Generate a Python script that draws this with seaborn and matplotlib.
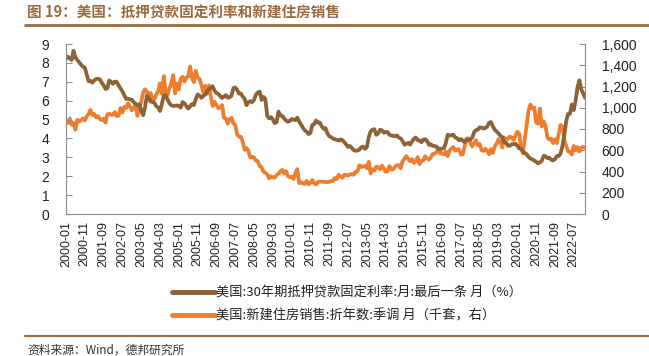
import numpy as np
import pandas as pd
import matplotlib
matplotlib.use("Agg")
import matplotlib.pyplot as plt
from matplotlib.lines import Line2D
from matplotlib.ticker import FuncFormatter, MultipleLocator
import seaborn as sns

# ---------------- data ----------------
start_month = "2000-01"
n_months = 277

# 美国:30年期抵押贷款固定利率:月:最后一条 (%)
rate = [
    8.21, 8.33, 8.24, 8.15, 8.64, 8.29, 8.15, 8.03, 7.91, 7.80, 7.75, 7.38,
    7.03, 7.05, 6.95, 7.08, 7.15, 7.16, 7.13, 6.95, 6.82, 6.62, 6.66, 7.07,
    7.00, 6.89, 7.01, 6.99, 6.81, 6.65, 6.49, 6.29, 6.09, 6.11, 6.07, 6.05,
    5.92, 5.84, 5.75, 5.81, 5.48, 5.23, 5.63, 6.26, 6.15, 5.95, 5.93, 5.88,
    5.71, 5.64, 5.45, 5.83, 6.27, 6.29, 6.06, 5.87, 5.75, 5.72, 5.73, 5.75,
    5.71, 5.63, 5.93, 5.86, 5.72, 5.58, 5.70, 5.82, 5.77, 6.07, 6.33, 6.27,
    6.15, 6.25, 6.32, 6.51, 6.60, 6.68, 6.76, 6.52, 6.40, 6.36, 6.24, 6.14,
    6.22, 6.29, 6.16, 6.18, 6.26, 6.66, 6.70, 6.57, 6.38, 6.38, 6.21, 6.10,
    5.76, 5.92, 5.97, 5.92, 6.04, 6.32, 6.43, 6.48, 6.04, 6.20, 6.09, 5.19,
    5.06, 5.13, 5.00, 4.81, 4.86, 5.42, 5.22, 5.19, 5.06, 4.95, 4.88, 4.93,
    5.03, 4.99, 4.97, 5.10, 4.89, 4.74, 4.56, 4.43, 4.35, 4.23, 4.30, 4.71,
    4.76, 4.95, 4.84, 4.84, 4.64, 4.51, 4.55, 4.27, 4.11, 4.07, 3.99, 3.96,
    3.92, 3.89, 3.95, 3.91, 3.80, 3.68, 3.55, 3.60, 3.50, 3.38, 3.35, 3.35,
    3.41, 3.53, 3.57, 3.45, 3.54, 4.07, 4.37, 4.46, 4.49, 4.19, 4.26, 4.46,
    4.43, 4.30, 4.34, 4.34, 4.19, 4.16, 4.13, 4.12, 4.16, 4.04, 4.00, 3.86,
    3.67, 3.71, 3.77, 3.67, 3.84, 3.98, 4.05, 3.91, 3.89, 3.80, 3.94, 3.96,
    3.87, 3.66, 3.69, 3.61, 3.60, 3.57, 3.44, 3.44, 3.46, 3.47, 3.77, 4.20,
    4.15, 4.17, 4.20, 4.05, 4.01, 3.90, 3.97, 3.88, 3.81, 3.90, 3.92, 3.95,
    4.03, 4.33, 4.44, 4.47, 4.59, 4.57, 4.53, 4.55, 4.63, 4.83, 4.87, 4.64,
    4.46, 4.37, 4.27, 4.14, 4.07, 3.80, 3.77, 3.62, 3.61, 3.69, 3.70, 3.72,
    3.62, 3.47, 3.45, 3.31, 3.23, 3.16, 3.02, 2.94, 2.89, 2.83, 2.77, 2.68,
    2.74, 2.81, 3.08, 3.06, 2.96, 2.98, 2.87, 2.84, 2.90, 3.07, 3.07, 3.20,
    3.60, 4.20, 4.90, 5.30, 5.30, 5.80, 5.50, 6.00, 6.70, 7.08, 6.60, 6.40,
    6.15,
]

# 美国:新建住房销售:折年数:季调 (千套)
sales = [
    873, 856, 900, 841, 857, 793, 887, 870, 880, 900, 880, 919,
    940, 980, 932, 941, 909, 921, 895, 883, 897, 860, 940, 942,
    932, 935, 959, 921, 927, 997, 955, 1009, 999, 1042, 1011, 976,
    1000, 1025, 924, 1010, 1050, 1142, 1174, 1151, 1104, 1140, 1069, 1079,
    1125, 1156, 1231, 1131, 1298, 1141, 1120, 1183, 1229, 1307, 1135, 1226,
    1173, 1274, 1291, 1246, 1284, 1297, 1389, 1282, 1241, 1349, 1285, 1271,
    1215, 1144, 1207, 1132, 1210, 1107, 1016, 1055, 1025, 994, 1004, 1026,
    905, 900, 849, 892, 906, 853, 838, 749, 729, 728, 680, 604,
    620, 593, 534, 538, 532, 502, 499, 451, 441, 397, 389, 374,
    336, 356, 345, 342, 367, 380, 400, 416, 382, 404, 357, 346,
    351, 330, 384, 422, 290, 300, 289, 282, 312, 278, 292, 320,
    288, 277, 302, 306, 304, 302, 302, 299, 303, 309, 314, 339,
    329, 369, 352, 342, 369, 367, 363, 371, 375, 369, 397, 399,
    458, 444, 446, 453, 431, 491, 381, 421, 409, 445, 442, 422,
    455, 431, 398, 403, 452, 418, 420, 446, 459, 461, 431, 498,
    521, 545, 519, 497, 517, 481, 495, 535, 469, 498, 505, 544,
    525, 512, 533, 565, 569, 580, 614, 567, 572, 561, 586, 545,
    598, 618, 631, 595, 608, 609, 559, 561, 639, 711, 712, 672,
    636, 667, 694, 646, 659, 601, 593, 613, 595, 562, 610, 575,
    637, 661, 704, 675, 626, 720, 708, 706, 729, 720, 697, 736,
    774, 753, 627, 570, 707, 843, 975, 1030, 994, 1002, 862, 850,
    993, 823, 873, 831, 720, 701, 708, 667, 702, 667, 752, 839,
    822, 700, 640, 590, 585, 560, 640, 600, 630, 588, 625, 630,
    625,
]

rate_label = "美国:30年期抵押贷款固定利率:月:最后一条 月（%）"
sales_label = "美国:新建住房销售:折年数:季调 月（千套，右）"
title_text = "图 19：美国：抵押贷款固定利率和新建住房销售"
source_text = "资料来源：Wind，德邦研究所"

months = pd.date_range(start_month, periods=n_months, freq="MS").strftime("%Y-%m").tolist()
df = pd.DataFrame({"idx": np.arange(n_months), "month": months,
                   "rate": rate, "sales": sales})

# ---------------- style ----------------
sns.set_theme(style="white")
plt.rcParams["font.family"] = ["Liberation Sans", "Noto Sans CJK SC", "DejaVu Sans"]
CJK = ["Noto Sans CJK SC", "DejaVu Sans"]

BROWN = "#8E6234"
ORANGE = "#EE7D2E"
TITLE_C = "#9C6A3E"
AXIS_C = "#8C8C8C"

W, H = 649, 356
fig = plt.figure(figsize=(W / 100, H / 100), dpi=100)
ax = fig.add_axes([66 / W, 1 - 214 / H, (585 - 66) / W, (214 - 44) / H])
ax2 = ax.twinx()

sns.lineplot(data=df, x="idx", y="rate", ax=ax, color=BROWN, linewidth=2.7, legend=False)
sns.lineplot(data=df, x="idx", y="sales", ax=ax2, color=ORANGE, linewidth=2.7, legend=False)
ax.set_zorder(ax2.get_zorder() + 1)
ax.patch.set_visible(False)

ax.set_xlim(0, n_months - 1)
ax.set_ylim(0, 9)
ax2.set_ylim(0, 1600)
ax.yaxis.set_major_locator(MultipleLocator(1))
ax2.yaxis.set_major_locator(MultipleLocator(200))
ax2.yaxis.set_major_formatter(FuncFormatter(lambda v, p: f"{int(v):,}"))

tick_pos = list(range(0, n_months, 10))
ax.set_xticks(tick_pos)
ax.set_xticklabels([months[i] for i in tick_pos], rotation=90)

for a in (ax, ax2):
    a.set_xlabel("")
    a.set_ylabel("")
    a.spines["top"].set_visible(False)
    for s in ("left", "right", "bottom"):
        a.spines[s].set_color(AXIS_C)
        a.spines[s].set_linewidth(0.8)
ax.spines["right"].set_visible(False)
ax2.spines["left"].set_visible(False)
ax2.spines["bottom"].set_visible(False)

ax.tick_params(axis="y", direction="in", length=4, width=0.8, color=AXIS_C,
               labelsize=10, labelcolor="#222222", pad=12)
ax.tick_params(axis="x", direction="in", length=4, width=0.8, color=AXIS_C,
               labelsize=9, labelcolor="#222222", pad=5)
ax2.tick_params(axis="y", direction="in", length=4, width=0.8, color=AXIS_C,
                labelsize=10, labelcolor="#222222", pad=12)

# title and rules
fig.text(27 / W, 1 - 13 / H, title_text, family=CJK, fontsize=10.5, fontweight="bold",
         color=TITLE_C, va="center", ha="left")
fig.add_artist(Line2D([25 / W, 1.0], [1 - 25 / H, 1 - 25 / H], color=TITLE_C, linewidth=2))
fig.add_artist(Line2D([25 / W, 1.0], [1 - 336 / H, 1 - 336 / H], color=TITLE_C, linewidth=1.5))
fig.text(27 / W, 1 - 350 / H, source_text, family=CJK, fontsize=8.5, color="#333333",
         va="center", ha="left")

# legend
handles = [Line2D([0], [0], color=BROWN, linewidth=3.5),
           Line2D([0], [0], color=ORANGE, linewidth=3.5)]
fig.legend(handles, [rate_label, sales_label], loc="center left",
           bbox_to_anchor=(167 / W, 1 - 304.5 / H), frameon=False,
           prop={"family": CJK, "size": 9.5}, handlelength=3.2, handletextpad=0.15,
           labelspacing=0.75, borderaxespad=0, labelcolor="#222222")

fig.savefig("out.png", dpi=100)
